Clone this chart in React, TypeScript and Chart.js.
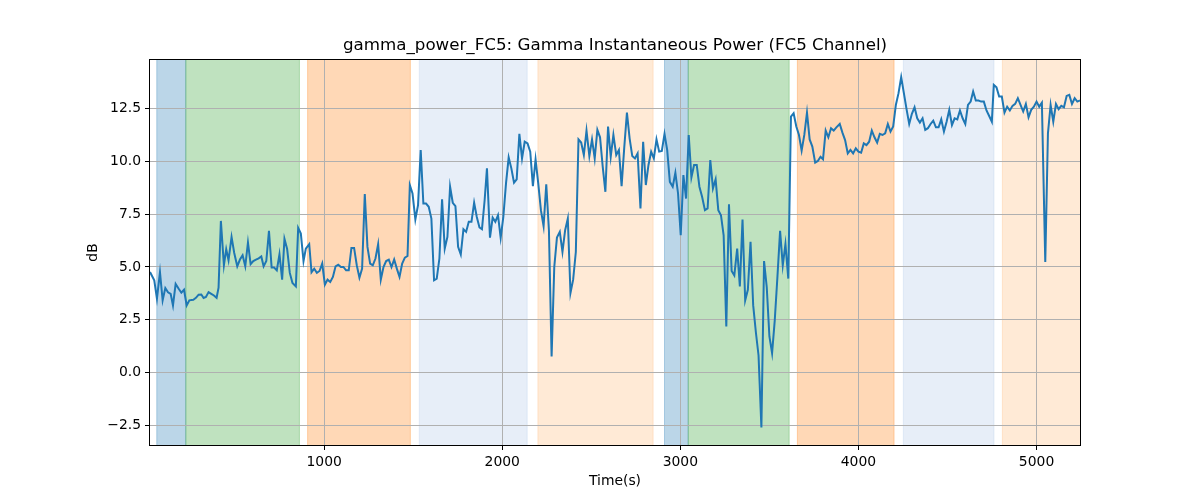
import React, { useEffect, useRef } from 'react';
import { Chart, registerables } from 'chart.js';

Chart.register(...registerables);

const titleText = 'gamma_power_FC5: Gamma Instantaneous Power (FC5 Channel)';
const xLabel = 'Time(s)';
const yLabel = 'dB';

const timeS = [
  22, 46, 61, 78, 93, 108, 123, 138, 151, 166, 183, 198, 213, 228, 243, 265, 280, 295, 310, 323,
  336, 351, 366, 381, 396, 407, 420, 437, 450, 463, 480, 495, 512, 527, 542, 557, 572, 587, 602, 617,
  632, 647, 660, 675, 690, 705, 719, 734, 749, 764, 777, 792, 807, 822, 841, 854, 869, 884, 897, 916,
  929, 944, 959, 974, 989, 1004, 1019, 1034, 1049, 1064, 1079, 1094, 1108, 1123, 1138, 1153, 1168, 1183, 1198, 1213,
  1228, 1243, 1258, 1273, 1288, 1303, 1318, 1333, 1348, 1363, 1378, 1393, 1408, 1423, 1438, 1453, 1468, 1481, 1496, 1512,
  1527, 1542, 1557, 1572, 1587, 1602, 1617, 1632, 1647, 1662, 1677, 1692, 1707, 1722, 1737, 1752, 1767, 1782, 1797, 1812,
  1827, 1842, 1857, 1872, 1886, 1901, 1914, 1931, 1946, 1961, 1976, 1991, 2006, 2021, 2036, 2051, 2066, 2081, 2096, 2111,
  2126, 2142, 2157, 2172, 2187, 2202, 2217, 2232, 2247, 2262, 2277, 2292, 2307, 2323, 2338, 2353, 2368, 2383, 2398, 2413,
  2428, 2443, 2458, 2473, 2489, 2504, 2519, 2534, 2549, 2564, 2579, 2594, 2609, 2624, 2640, 2655, 2670, 2685, 2700, 2715,
  2730, 2745, 2760, 2776, 2791, 2806, 2821, 2836, 2851, 2866, 2881, 2896, 2911, 2926, 2941, 2957, 2972, 2987, 3002, 3017,
  3032, 3047, 3062, 3077, 3092, 3107, 3122, 3138, 3153, 3168, 3183, 3198, 3213, 3228, 3243, 3258, 3273, 3288, 3303, 3319,
  3334, 3349, 3364, 3379, 3394, 3409, 3424, 3439, 3455, 3470, 3485, 3500, 3515, 3530, 3545, 3560, 3575, 3590, 3606, 3621,
  3636, 3651, 3666, 3681, 3696, 3711, 3726, 3741, 3757, 3772, 3787, 3801, 3816, 3831, 3846, 3861, 3876, 3895, 3910, 3925,
  3940, 3955, 3970, 3985, 4000, 4015, 4030, 4045, 4060, 4075, 4090, 4105, 4120, 4135, 4150, 4165, 4180, 4195, 4210, 4225,
  4240, 4255, 4270, 4285, 4300, 4315, 4330, 4345, 4360, 4375, 4390, 4405, 4420, 4435, 4450, 4465, 4480, 4495, 4510, 4525,
  4540, 4555, 4570, 4585, 4600, 4615, 4630, 4644, 4659, 4674, 4689, 4704, 4719, 4734, 4749, 4760, 4775, 4790, 4805, 4820,
  4835, 4850, 4865, 4880, 4895, 4910, 4925, 4940, 4955, 4970, 4985, 5000, 5015, 5030, 5049, 5064, 5079, 5094, 5109, 5124,
  5139, 5154, 5169, 5184, 5199, 5214, 5229, 5244,
];

const gammaDb = [
  4.76, 4.37, 3.5, 4.76, 3.42, 4.0, 3.8, 3.73, 3.18, 4.2, 3.97, 3.78, 3.92, 3.18, 3.42, 3.45, 3.54, 3.69, 3.7, 3.53,
  3.58, 3.81, 3.73, 3.65, 3.54, 4.02, 7.18, 5.08, 5.84, 5.32, 6.42, 5.66, 5.03, 5.35, 5.55, 5.03, 6.16, 5.13, 5.28, 5.35,
  5.41, 5.5, 5.03, 5.28, 6.71, 4.97, 4.97, 4.84, 5.6, 4.4, 6.33, 5.85, 4.72, 4.24, 4.08, 6.85, 6.58, 5.28, 5.87, 6.08,
  4.75, 4.92, 4.72, 4.81, 5.16, 4.16, 4.4, 4.29, 4.53, 5.03, 5.11, 5.0, 5.0, 4.84, 4.84, 5.9, 5.9, 5.08, 4.49, 4.92,
  8.45, 5.95, 5.16, 5.08, 5.4, 6.08, 4.4, 5.0, 5.28, 5.35, 5.0, 5.35, 4.92, 4.53, 5.16, 5.44, 5.52, 8.88, 8.48, 7.25,
  7.93, 10.54, 8.0, 8.0, 7.85, 7.29, 4.37, 4.45, 5.4, 8.2, 5.87, 6.42, 8.8, 8.04, 7.88, 5.95, 5.59, 6.79, 6.66, 7.14,
  7.14, 8.04, 7.37, 6.87, 6.79, 8.16, 9.67, 6.39, 7.34, 7.14, 7.45, 6.38, 7.37, 8.96, 10.19, 9.67, 8.99, 9.15, 11.3, 10.14,
  10.93, 10.85, 10.46, 8.83, 10.09, 8.96, 7.69, 6.93, 8.91, 6.74, 0.76, 5.0, 6.39, 6.66, 5.71, 6.74, 7.29, 3.77, 4.4, 5.71,
  11.04, 10.89, 10.3, 11.46, 10.25, 11.04, 10.14, 11.49, 11.14, 9.75, 8.56, 11.65, 10.22, 11.25, 10.3, 10.54, 8.83, 10.66, 12.31, 11.09,
  10.25, 10.14, 10.38, 7.77, 10.93, 8.88, 9.83, 10.46, 10.14, 11.04, 10.46, 10.49, 11.3, 10.54, 9.03, 8.8, 9.46, 8.48, 6.5, 9.35,
  8.24, 11.25, 9.24, 9.83, 9.83, 8.8, 8.32, 7.69, 7.77, 10.06, 8.72, 9.15, 7.69, 7.45, 6.5, 2.18, 7.97, 4.81, 4.6, 5.87,
  4.08, 7.25, 3.42, 3.92, 6.19, 3.18, 1.91, 0.81, -2.6, 5.28, 4.05, 1.71, 0.92, 2.47, 4.53, 6.71, 5.08, 6.08, 4.45, 12.12,
  12.28, 11.65, 11.25, 10.51, 11.25, 12.31, 11.04, 10.7, 9.94, 10.02, 10.22, 10.1, 11.46, 11.14, 11.57, 11.46, 11.61, 11.77, 11.36, 11.01,
  10.38, 10.54, 10.38, 10.62, 10.46, 10.41, 10.85, 10.77, 10.93, 11.46, 11.14, 10.89, 11.3, 11.25, 11.33, 11.77, 11.41, 11.65, 12.67, 13.23,
  13.99, 13.23, 12.47, 11.77, 12.25, 12.56, 12.04, 11.84, 12.04, 11.49, 11.57, 11.77, 11.93, 11.61, 11.61, 11.99, 11.41, 11.88, 12.44, 11.72,
  12.04, 11.99, 12.41, 12.04, 11.77, 12.67, 12.83, 13.31, 12.88, 12.88, 12.83, 12.83, 12.41, 12.15, 11.88, 13.62, 13.51, 13.07, 13.07, 12.31,
  12.59, 12.41, 12.63, 12.72, 12.99, 12.67, 12.36, 12.72, 12.09, 12.44, 12.59, 12.83, 12.59, 12.78, 5.24, 11.33, 12.67, 11.88, 12.72, 12.47,
  12.63, 12.56, 13.1, 13.15, 12.72, 12.99, 12.83, 12.88,
];

const spanStart = [60, 223, 907, 1534, 2200, 2911, 3044, 3657, 4252, 4808];
const spanEnd = [223, 861, 1484, 2140, 2847, 3044, 3611, 4200, 4761, 5300];
const spanColor = [
  'rgba(31,119,180,0.3)',
  'rgba(44,160,44,0.3)',
  'rgba(255,127,14,0.3)',
  'rgba(174,199,232,0.3)',
  'rgba(255,187,120,0.3)',
  'rgba(31,119,180,0.3)',
  'rgba(44,160,44,0.3)',
  'rgba(255,127,14,0.3)',
  'rgba(174,199,232,0.3)',
  'rgba(255,187,120,0.3)',
];

const xTicks = [1000, 2000, 3000, 4000, 5000];
const yTicks = [-2.5, 0, 2.5, 5, 7.5, 10, 12.5];
const xMin = 22;
const xMax = 5244;
const yMin = -3.43;
const yMax = 14.8;

const FONT = '"DejaVu Sans", sans-serif';

const spansPlugin = {
  id: 'spans',
  beforeDraw(chart: any) {
    const { ctx, chartArea, scales } = chart;
    const xs = scales.x;
    ctx.save();
    ctx.beginPath();
    ctx.rect(chartArea.left, chartArea.top, chartArea.right - chartArea.left, chartArea.bottom - chartArea.top);
    ctx.clip();
    for (let i = 0; i < spanStart.length; i++) {
      const a = xs.getPixelForValue(spanStart[i]);
      const b = xs.getPixelForValue(spanEnd[i]);
      ctx.fillStyle = spanColor[i];
      ctx.fillRect(a, chartArea.top, b - a, chartArea.bottom - chartArea.top);
      ctx.strokeStyle = spanColor[i];
      ctx.lineWidth = 1;
      ctx.strokeRect(a, chartArea.top - 2, b - a, chartArea.bottom - chartArea.top + 4);
    }
    ctx.restore();
  },
};

const framePlugin = {
  id: 'frame',
  afterDraw(chart: any) {
    const { ctx, chartArea } = chart;
    ctx.save();
    ctx.strokeStyle = '#000';
    ctx.lineWidth = 1;
    ctx.strokeRect(
      Math.round(chartArea.left) - 0.5,
      Math.round(chartArea.top) - 0.5,
      Math.round(chartArea.right - chartArea.left) + 1,
      Math.round(chartArea.bottom - chartArea.top) + 1
    );
    ctx.fillStyle = '#000';
    ctx.font = '16.7px ' + FONT;
    ctx.textAlign = 'center';
    ctx.textBaseline = 'middle';
    ctx.fillText(titleText, (chartArea.left + chartArea.right) / 2, 46);
    ctx.restore();
  },
};

export default function App() {
  const ref = useRef<HTMLCanvasElement | null>(null);

  useEffect(() => {
    document.body.style.margin = '0';
    const canvas = ref.current;
    if (!canvas) return;
    Chart.defaults.font.family = FONT;
    Chart.defaults.color = '#000';
    const points = timeS.map((t, i) => ({ x: t, y: gammaDb[i] }));
    const chart = new Chart(canvas, {
      type: 'line',
      data: {
        datasets: [
          {
            data: points,
            borderColor: '#1f77b4',
            borderWidth: 2,
            pointRadius: 0,
            tension: 0,
            fill: false,
          },
        ],
      },
      options: {
        animation: false,
        responsive: false,
        devicePixelRatio: 1,
        layout: { padding: { left: 80, right: 120, top: 60, bottom: 0 } },
        plugins: {
          legend: { display: false },
          tooltip: { enabled: false },
          title: { display: false },
        },
        scales: {
          x: {
            type: 'linear',
            min: xMin,
            max: xMax,
            afterBuildTicks: (scale: any) => {
              scale.ticks = xTicks.map((v) => ({ value: v }));
            },
            afterFit: (scale: any) => {
              scale.height = 55;
            },
            ticks: {
              callback: (v: any) => String(v),
              font: { size: 13.9 },
              color: '#000',
              padding: 4,
              maxRotation: 0,
              autoSkip: false,
            },
            grid: {
              color: '#b0b0b0',
              lineWidth: 1,
              tickColor: '#000',
              tickLength: 5,
              drawOnChartArea: true,
            },
            border: { display: false },
            title: {
              display: true,
              text: xLabel,
              color: '#000',
              font: { size: 13.9 },
              padding: { top: 0, bottom: 10 },
            },
          },
          y: {
            type: 'linear',
            min: yMin,
            max: yMax,
            afterBuildTicks: (scale: any) => {
              scale.ticks = yTicks.map((v) => ({ value: v }));
            },
            afterFit: (scale: any) => {
              scale.width = 70;
            },
            ticks: {
              callback: (v: any) => Number(v).toFixed(1).replace('-', '\u2212'),
              font: { size: 13.9 },
              color: '#000',
              padding: 4,
              autoSkip: false,
            },
            grid: {
              color: '#b0b0b0',
              lineWidth: 1,
              tickColor: '#000',
              tickLength: 5,
              drawOnChartArea: true,
            },
            border: { display: false },
            title: {
              display: true,
              text: yLabel,
              color: '#000',
              font: { size: 13.9 },
              padding: { top: 5, bottom: 0 },
            },
          },
        },
      },
      plugins: [spansPlugin, framePlugin],
    });
    return () => chart.destroy();
  }, []);

  return (
    <div style={{ width: 1200, height: 500 }}>
      <canvas ref={ref} width={1200} height={500} style={{ display: 'block', width: 1200, height: 500 }} />
    </div>
  );
}
